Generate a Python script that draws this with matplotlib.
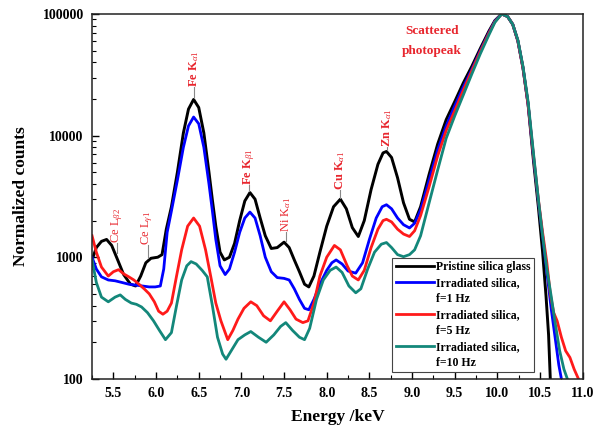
import matplotlib
matplotlib.use("Agg")
import matplotlib.pyplot as plt
from matplotlib.lines import Line2D
from matplotlib.ticker import MultipleLocator, LogLocator, NullFormatter

plt.rcParams['font.family'] = ['Liberation Serif', 'DejaVu Serif']
plt.rcParams['mathtext.fontset'] = 'custom'
plt.rcParams['mathtext.rm'] = 'Liberation Serif'
plt.rcParams['mathtext.it'] = 'Liberation Serif:italic'
plt.rcParams['mathtext.bf'] = 'Liberation Serif:bold'

# --- data (energy in keV, normalized counts) ---
pristine_x = [5.25, 5.30, 5.36, 5.42, 5.48, 5.55, 5.62, 5.70, 5.76, 5.82, 5.88, 5.94,
              6.02, 6.07, 6.12, 6.18, 6.25, 6.32, 6.38, 6.44, 6.50, 6.56, 6.62, 6.66,
              6.70, 6.75, 6.80, 6.86, 6.92, 6.98, 7.04, 7.10, 7.16, 7.22, 7.28, 7.35,
              7.42, 7.50, 7.56, 7.62, 7.68, 7.74, 7.79, 7.85, 7.92, 8.00, 8.08, 8.16,
              8.23, 8.30, 8.37, 8.44, 8.52, 8.60, 8.66, 8.70, 8.76, 8.83, 8.90, 8.97,
              9.03, 9.10, 9.20, 9.30, 9.40, 9.50, 9.60, 9.70, 9.80, 9.90, 9.97, 10.05,
              10.12, 10.18, 10.24, 10.30, 10.36, 10.42, 10.48, 10.53, 10.57, 10.60, 10.62]
pristine_y = [950, 1200, 1350, 1400, 1250, 950, 720, 600, 580, 700, 900, 980,
              1000, 1050, 1700, 2600, 5000, 10500, 16500, 19800, 17000, 10500, 5000, 2950,
              1800, 1100, 950, 1000, 1300, 2000, 2900, 3400, 3000, 2100, 1500, 1180,
              1200, 1330, 1200, 950, 760, 600, 570, 700, 1100, 1800, 2600, 3000,
              2500, 1750, 1480, 2000, 3600, 5800, 7200, 7400, 6600, 4500, 2800, 2050,
              1950, 2600, 4800, 8500, 13500, 19000, 27000, 37000, 52000, 72000, 88000, 100000,
              95000, 82000, 60000, 36000, 18000, 6500, 2600, 1100, 480, 230, 100]

hz1_x = [5.25, 5.30, 5.36, 5.44, 5.52, 5.60, 5.68, 5.76, 5.84, 5.92, 5.99, 6.05,
         6.09, 6.13, 6.18, 6.25, 6.32, 6.38, 6.44, 6.50, 6.56, 6.62, 6.66, 6.70,
         6.75, 6.81, 6.86, 6.92, 6.98, 7.04, 7.10, 7.16, 7.22, 7.28, 7.35, 7.42,
         7.50, 7.56, 7.62, 7.68, 7.74, 7.79, 7.85, 7.92, 8.00, 8.06, 8.11, 8.18,
         8.25, 8.34, 8.42, 8.50, 8.58, 8.65, 8.70, 8.76, 8.83, 8.90, 8.97, 9.03,
         9.10, 9.20, 9.30, 9.40, 9.50, 9.60, 9.70, 9.80, 9.90, 9.97, 10.05, 10.12,
         10.18, 10.24, 10.30, 10.36, 10.42, 10.48, 10.53, 10.58, 10.63, 10.68, 10.72, 10.75]
hz1_y = [1000, 800, 690, 650, 640, 620, 600, 590, 580, 570, 570, 580,
         800, 1600, 2400, 4300, 8000, 12000, 14200, 12500, 8000, 4000, 2400, 1400,
         850, 720, 800, 1100, 1600, 2100, 2350, 2100, 1500, 1000, 760, 680,
         670, 650, 550, 450, 380, 370, 450, 600, 780, 900, 950, 880,
         770, 740, 900, 1400, 2100, 2600, 2700, 2500, 2100, 1850, 1740, 1900,
         2450, 4300, 7600, 12000, 17500, 25000, 35000, 50000, 70000, 87000, 100000, 95000,
         82000, 60000, 36000, 18000, 7000, 2900, 1500, 750, 380, 210, 130, 100]

hz5_x = [5.25, 5.30, 5.36, 5.44, 5.50, 5.56, 5.62, 5.68, 5.74, 5.80, 5.86, 5.92,
         5.98, 6.03, 6.08, 6.13, 6.18, 6.24, 6.30, 6.37, 6.44, 6.51, 6.58, 6.64,
         6.70, 6.76, 6.84, 6.90, 6.96, 7.03, 7.11, 7.18, 7.26, 7.34, 7.42, 7.50,
         7.57, 7.64, 7.72, 7.78, 7.85, 7.92, 8.00, 8.09, 8.16, 8.24, 8.30, 8.37,
         8.44, 8.52, 8.60, 8.66, 8.70, 8.76, 8.83, 8.90, 8.97, 9.03, 9.10, 9.20,
         9.30, 9.40, 9.50, 9.60, 9.70, 9.80, 9.90, 9.97, 10.05, 10.12, 10.18, 10.24,
         10.30, 10.36, 10.42, 10.48, 10.53, 10.58, 10.62, 10.66, 10.70, 10.75, 10.80, 10.85,
         10.90, 10.95]
hz5_y = [1500, 1100, 830, 700, 760, 790, 730, 690, 650, 600, 550, 500,
         430, 360, 340, 360, 420, 700, 1150, 1800, 2100, 1800, 1150, 700,
         420, 300, 210, 250, 310, 380, 430, 400, 330, 300, 360, 430,
         370, 310, 290, 300, 420, 700, 1000, 1250, 1150, 850, 700, 650,
         780, 1200, 1700, 2000, 2050, 1950, 1700, 1550, 1480, 1650, 2200, 3800,
         6800, 11000, 16000, 23500, 34000, 49000, 69000, 86000, 100000, 95000, 82000, 60000,
         36000, 18000, 7200, 3000, 1600, 900, 500, 350, 300, 220, 170, 150,
         120, 100]

hz10_x = [5.25, 5.30, 5.36, 5.44, 5.52, 5.58, 5.64, 5.71, 5.77, 5.83, 5.90, 5.97,
          6.04, 6.11, 6.18, 6.24, 6.30, 6.36, 6.41, 6.47, 6.54, 6.60, 6.66, 6.72,
          6.78, 6.82, 6.88, 6.96, 7.04, 7.11, 7.20, 7.29, 7.38, 7.46, 7.52, 7.60,
          7.68, 7.74, 7.80, 7.88, 7.96, 8.04, 8.11, 8.18, 8.26, 8.34, 8.40, 8.48,
          8.56, 8.64, 8.70, 8.76, 8.83, 8.90, 8.97, 9.03, 9.10, 9.20, 9.30, 9.40,
          9.50, 9.60, 9.70, 9.80, 9.90, 9.97, 10.05, 10.12, 10.18, 10.24, 10.30, 10.36,
          10.42, 10.48, 10.53, 10.58, 10.63, 10.68, 10.73, 10.78, 10.82]
hz10_y = [950, 620, 470, 430, 470, 490, 450, 420, 410, 390, 350, 300,
          250, 210, 240, 400, 650, 850, 920, 880, 780, 690, 400, 220,
          160, 145, 170, 210, 230, 245, 220, 200, 230, 270, 290, 250,
          220, 210, 260, 450, 650, 780, 830, 750, 580, 510, 550, 800,
          1100, 1280, 1320, 1200, 1050, 1010, 1050, 1150, 1500, 2800, 5200, 9500,
          14500, 21500, 32000, 47000, 67000, 85000, 100000, 95000, 82000, 61000, 37000, 19000,
          7500, 3000, 1500, 800, 480, 280, 170, 120, 100]

# peak labels
peak_labels = ['Ce L$_{\\beta 2}$', 'Ce L$_{\\gamma 1}$', 'Fe K$_{\\alpha 1}$', 'Fe K$_{\\beta 1}$',
               'Ni K$_{\\alpha 1}$', 'Cu K$_{\\alpha 1}$', 'Zn K$_{\\alpha 1}$']
peak_x = [5.54, 5.90, 6.44, 7.09, 7.52, 8.16, 8.71]
peak_top = [1050, 960, 19800, 3400, 1330, 3000, 7400]
label_base = [1300, 1260, 25000, 3900, 1620, 3550, 8000]

series_labels = ['Pristine silica glass', 'Irradiated silica,', 'Irradiated silica,', 'Irradiated silica,']
series_freq = [None, 'f=1 Hz', 'f=5 Hz', 'f=10 Hz']
colors = ['black', '#0000ff', '#ff1a1a', '#13877a']

fig = plt.figure(figsize=(5.94, 4.34), dpi=100)
ax = fig.add_axes([0.155, 0.127, 0.826, 0.841])

ax.plot(pristine_x, pristine_y, color=colors[0], lw=2.1)
ax.plot(hz1_x, hz1_y, color=colors[1], lw=2)
ax.plot(hz5_x, hz5_y, color=colors[2], lw=2)
ax.plot(hz10_x, hz10_y, color=colors[3], lw=2)

ax.set_yscale('log')
ax.set_xlim(5.25, 11.0)
ax.set_ylim(100, 100000)

ax.xaxis.set_major_locator(MultipleLocator(0.5))
ax.xaxis.set_minor_locator(MultipleLocator(0.25))
ax.xaxis.set_major_formatter(plt.FuncFormatter(lambda v, p: f'{v:.1f}'))
ax.yaxis.set_major_locator(LogLocator(base=10, numticks=10))
ax.yaxis.set_minor_locator(LogLocator(base=10, subs=range(2, 10), numticks=10))
ax.yaxis.set_minor_formatter(NullFormatter())
ax.yaxis.set_major_formatter(plt.FuncFormatter(lambda v, p: f'{int(round(v))}'))

ax.tick_params(which='both', direction='in', top=False, right=False)
ax.tick_params(which='major', length=5, width=1, labelsize=10, pad=6)
ax.tick_params(which='minor', length=3, width=0.8)
for lab in ax.get_xticklabels() + ax.get_yticklabels():
    lab.set_fontweight('bold')
for s in ax.spines.values():
    s.set_linewidth(1.1)
    s.set_color('#222222')

ax.set_xlabel('Energy /keV', fontsize=12.5, fontweight='bold', labelpad=6)
ax.set_ylabel('Normalized counts', fontsize=12.5, fontweight='bold', labelpad=10)

red_txt = '#e8262e'
bold_flags = [False, False, True, True, False, True, True]
for txt, x, top, base, b in zip(peak_labels, peak_x, peak_top, label_base, bold_flags):
    ax.plot([x, x], [top * 1.03, base], color='#888888', lw=0.8)
    ax.text(x, base, txt, rotation=90, ha='center', va='bottom', color=red_txt,
            fontsize=9, fontweight='bold' if b else 'normal')

ax.text(9.23, 60000, 'Scattered\nphotopeak', ha='center', va='center', color=red_txt,
        fontsize=9.5, fontweight='bold', linespacing=1.9)

# legend with the frequency on its own row under each label
handles, labels = [], []
for c, lab, fq in zip(colors, series_labels, series_freq):
    handles.append(Line2D([], [], color=c, lw=2))
    labels.append(lab)
    if fq:
        handles.append(Line2D([], [], color='none'))
        labels.append(fq)
leg = ax.legend(handles, labels, loc='lower left', bbox_to_anchor=(0.612, 0.018),
                prop={'family': 'Liberation Serif', 'weight': 'bold', 'size': 8.5},
                fancybox=False, framealpha=1, edgecolor='#444444', handlelength=3.2,
                handletextpad=0.2, labelspacing=0.33, borderpad=0.3, borderaxespad=0)
leg.get_frame().set_linewidth(0.8)

fig.savefig('out.png', dpi=100)
